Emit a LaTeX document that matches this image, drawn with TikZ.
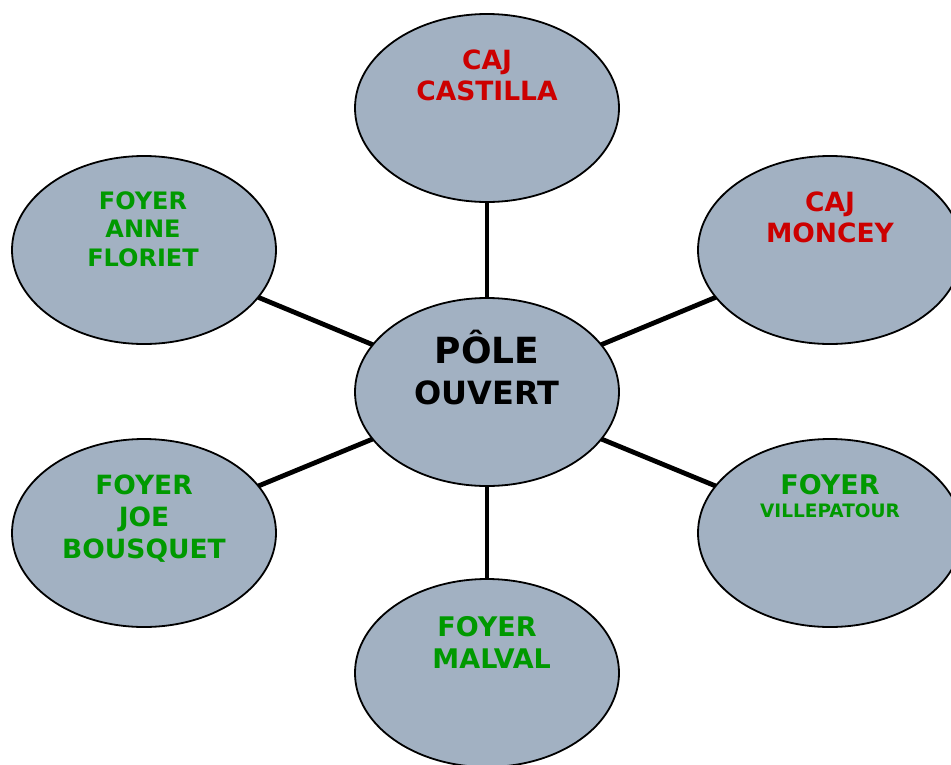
\documentclass[tikz,border=0pt]{standalone}
\usepackage{fontspec}
\setmainfont{DejaVu Sans}
\usetikzlibrary{shapes.geometric,backgrounds}
\definecolor{gris}{RGB}{162,177,194}
\definecolor{rouge}{RGB}{204,0,0}
\definecolor{vert}{RGB}{0,153,0}
\tikzset{
  bulle/.style={shape=ellipse, draw=black, line width=1.8pt, fill=gris, minimum width=264pt, minimum height=188pt, inner sep=0pt},
  lien/.style={-, line width=4.8pt, draw=black},
  nom/.style={inner sep=0pt, align=center, anchor=base},
}
\begin{document}
\begin{tikzpicture}[x=1pt, y=-1pt]
\useasboundingbox (0,0) rectangle (951,764);
\node[bulle] (pole) at (487,392) {};
\node[bulle] (castilla) at (487,108) {};
\node[bulle] (moncey) at (830,250) {};
\node[bulle] (floriet) at (144,250) {};
\node[bulle] (bousquet) at (144,533) {};
\node[bulle] (villepatour) at (830,533) {};
\node[bulle] (malval) at (487,673) {};
\begin{pgfonlayer}{background}
\path [lien] (pole.center) edge (castilla.center);
\path [lien] (pole.center) edge (moncey.center);
\path [lien] (pole.center) edge (floriet.center);
\path [lien] (pole.center) edge (bousquet.center);
\path [lien] (pole.center) edge (villepatour.center);
\path [lien] (pole.center) edge (malval.center);
\end{pgfonlayer}
% texte : ancre sur la ligne de base de la derniere ligne
\node[nom, font=\bfseries\fontsize{32}{41}\selectfont] (tpole) at (487,404) {{\fontsize{36}{41}\selectfont PÔLE}\\OUVERT};
\node[nom, text=rouge, font=\bfseries\fontsize{26.5}{31}\selectfont] (tcastilla) at (487,100) {CAJ\\CASTILLA};
\node[nom, text=rouge, font=\bfseries\fontsize{26.5}{31}\selectfont] (tmoncey) at (830,242) {CAJ\\MONCEY};
\node[nom, text=vert, font=\bfseries\fontsize{24}{28.5}\selectfont] (tfloriet) at (143,266) {FOYER\\ANNE\\FLORIET};
\node[nom, text=vert, font=\bfseries\fontsize{26.5}{32}\selectfont] (tbousquet) at (144,558) {FOYER\\JOE\\BOUSQUET};
\node[nom, text=vert, font=\bfseries\fontsize{27}{23}\selectfont] (tvillepatour) at (830,517) {FOYER\\{\fontsize{18.5}{23}\selectfont VILLEPATOUR}};
\node[nom, text=vert, font=\bfseries\fontsize{27}{32}\selectfont] (tmalval) at (487,668) {FOYER\\~MALVAL};
\end{tikzpicture}
\end{document}
